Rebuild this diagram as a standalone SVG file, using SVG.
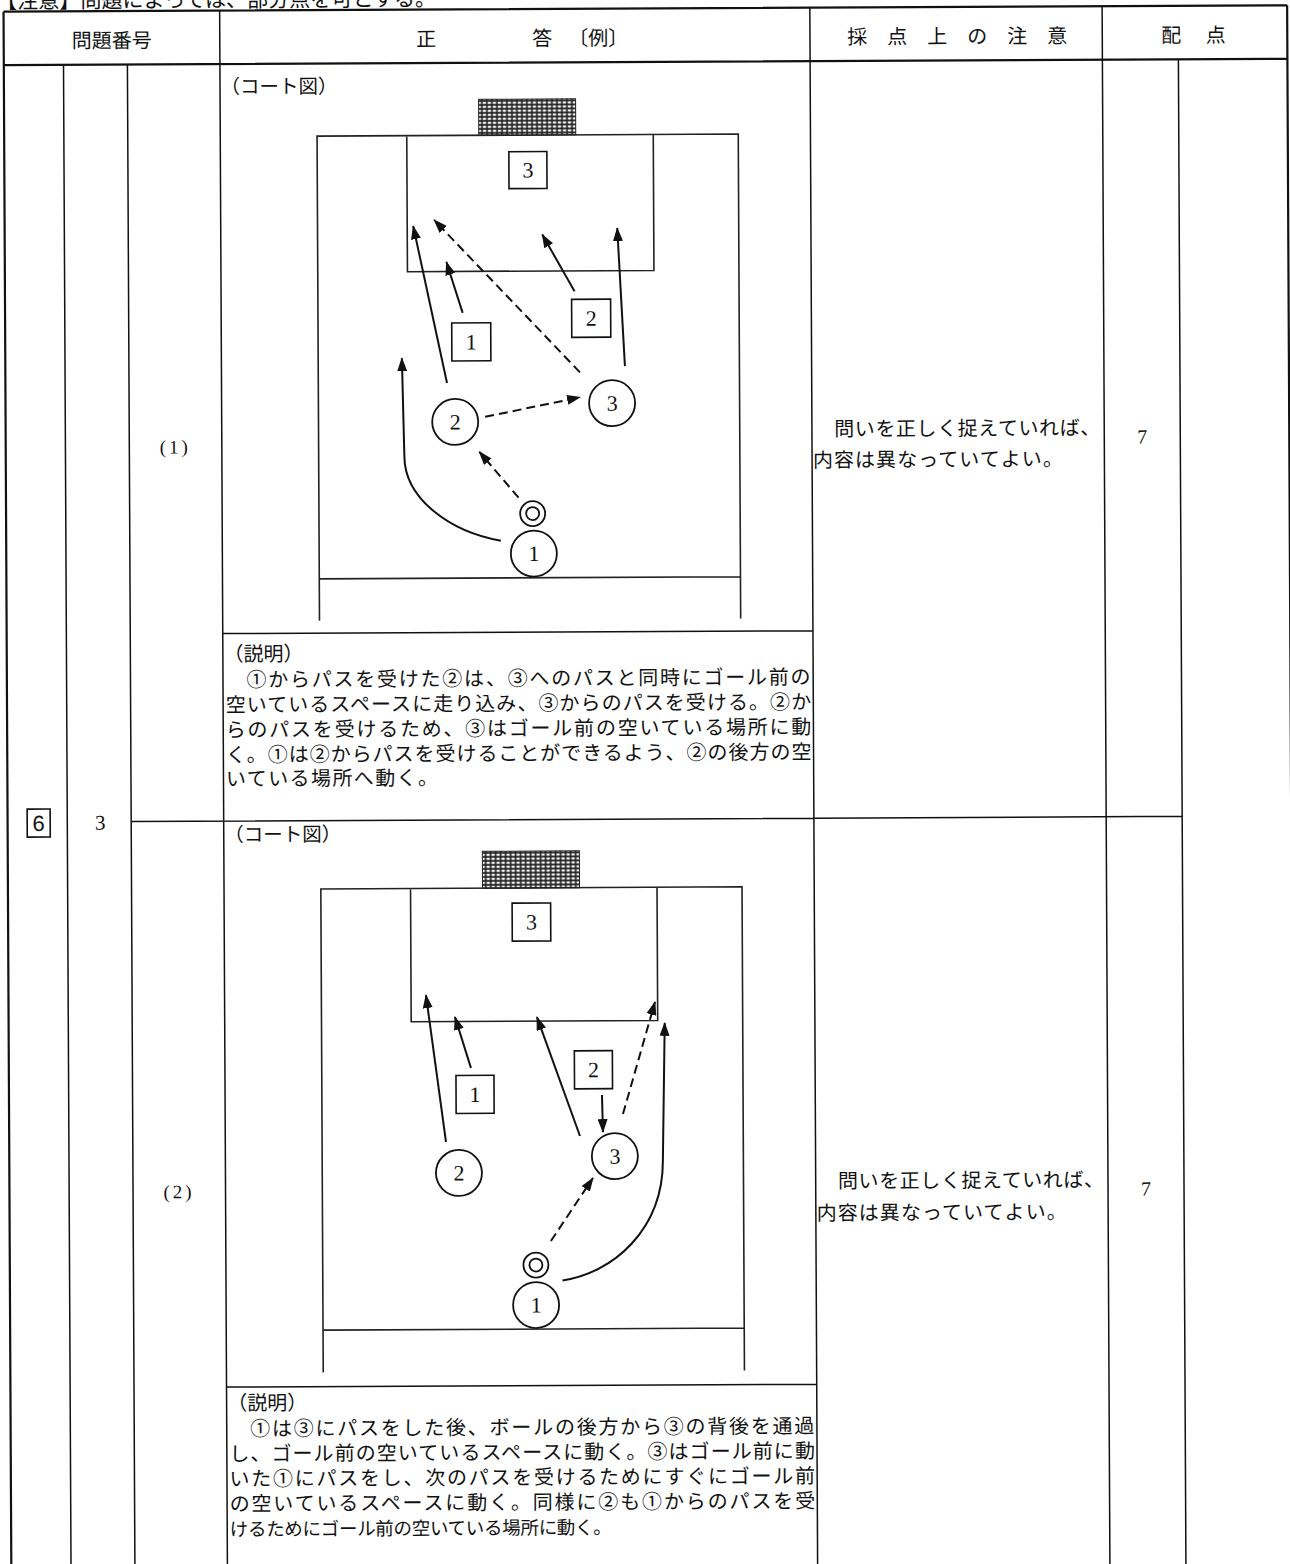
<svg xmlns="http://www.w3.org/2000/svg" width="1290" height="1564" viewBox="0 0 1290 1564">
<defs>
<style>
.t{font-family:'Noto Sans CJK JP','Noto Sans CJK SC',sans-serif;fill:#111}
.s{font-family:'Liberation Serif','DejaVu Serif',serif;fill:#111}
.g{font-family:'Liberation Sans','DejaVu Sans',sans-serif;fill:#111}
.bd{stroke:#111;stroke-width:2.2;fill:none}
.ln{stroke:#111;stroke-width:1.5;fill:none}
.cl{stroke:#222;stroke-width:1.6;fill:none}
.ar{stroke:#111;stroke-width:2;fill:none;marker-end:url(#ah)}
.da{stroke:#111;stroke-width:2;fill:none;stroke-dasharray:9 5;marker-end:url(#ah)}
.c{fill:#fff;stroke:#111;stroke-width:1.8}
.bx{fill:#fff;stroke:#111;stroke-width:1.6}
.n{font-size:22px;text-anchor:middle}
.e{font-size:20px}
</style>
<marker id="ah" viewBox="0 0 14 10" refX="13" refY="5" markerWidth="14" markerHeight="10" markerUnits="userSpaceOnUse" orient="auto"><path d="M0,0 L14,5 L0,10 Z" fill="#111"/></marker>
<pattern id="net" width="5" height="4" patternUnits="userSpaceOnUse"><rect width="5" height="4" fill="#222"/><rect x="1.2" y="1" width="3.2" height="2.2" fill="#fff"/></pattern>
</defs>
<rect width="1290" height="1564" fill="#fff"/>
<g transform="rotate(-0.2865 645 782)">
<text class="t" x="0" y="5" font-size="21" textLength="440" lengthAdjust="spacing">【注意】問題によっては、部分点を可とする。</text>

<g id="table">
<path class="bd" d="M7.4,8.5 H1291 M7.4,62 H1291 M7.4,8.5 V1575 M1291,8.5 V1575"/>
<path class="ln" d="M67.1,62 V1575 M131,62 V1575 M223.5,8.5 V1575 M813.7,8.5 V1575 M1106,8.5 V1575 M1182,62 V1575 M131,819 H1182 M223.5,631.5 H813.7 M223.5,1385 H813.7"/>
</g>

<g id="header">
<text class="t" x="115.5" y="45" font-size="20" text-anchor="middle">問題番号</text>
<text class="t" x="430" y="45" font-size="20" text-anchor="middle">正</text>
<text class="t" x="546" y="45" font-size="20" text-anchor="middle">答</text>
<text class="t" x="602" y="45" font-size="20" text-anchor="middle">〔例〕</text>
<text class="t" x="851" y="45" font-size="20" textLength="220" lengthAdjust="spacing">採点上の注意</text>
<text class="t" x="1175" y="45" font-size="20" text-anchor="middle">配</text>
<text class="t" x="1219.5" y="45" font-size="20" text-anchor="middle">点</text>
</g>

<g id="labels">
<rect class="bx" x="27" y="806" width="23" height="28"/>
<text class="g" x="38.5" y="828" font-size="22" text-anchor="middle">6</text>
<text class="s" x="100" y="827" font-size="21" text-anchor="middle">3</text>
<text class="s" x="177" y="451" font-size="19" text-anchor="middle" letter-spacing="3">(1)</text>
<text class="s" x="177" y="1196" font-size="19" text-anchor="middle" letter-spacing="3">(2)</text>
<text class="s" x="1144" y="446" font-size="20" text-anchor="middle">7</text>
<text class="s" x="1144" y="1198" font-size="20" text-anchor="middle">7</text>
<text class="t" x="836" y="437" font-size="20" textLength="266" lengthAdjust="spacing">問いを正しく捉えていれば、</text>
<text class="t" x="814.5" y="468" font-size="20" textLength="250" lengthAdjust="spacing">内容は異なっていてよい。</text>
<text class="t" x="836" y="1189" font-size="20" textLength="266" lengthAdjust="spacing">問いを正しく捉えていれば、</text>
<text class="t" x="814.5" y="1221" font-size="20" textLength="250" lengthAdjust="spacing">内容は異なっていてよい。</text>
</g>

<g id="explain1">
<text class="t" x="224" y="91.5" font-size="19.5">（コート図）</text>
<text class="t" x="224" y="659" font-size="20">（説明）</text>
<text class="t e" x="247" y="684.8" textLength="564" lengthAdjust="spacing">①からパスを受けた②は、③へのパスと同時にゴール前の</text>
<text class="t e" x="226" y="709.8" textLength="585.5" lengthAdjust="spacing">空いているスペースに走り込み、③からのパスを受ける。②か</text>
<text class="t e" x="226" y="734.8" textLength="585.5" lengthAdjust="spacing">らのパスを受けるため、③はゴール前の空いている場所に動</text>
<text class="t e" x="226" y="759.8" textLength="585.5" lengthAdjust="spacing">く。①は②からパスを受けることができるよう、②の後方の空</text>
<text class="t e" x="226" y="783.8" textLength="212" lengthAdjust="spacing">いている場所へ動く。</text>
</g>

<g id="explain2">
<text class="t" x="224" y="839.5" font-size="19.5">（コート図）</text>
<text class="t" x="224" y="1408" font-size="20">（説明）</text>
<text class="t e" x="247" y="1433.8" textLength="564" lengthAdjust="spacing">①は③にパスをした後、ボールの後方から③の背後を通過</text>
<text class="t e" x="226" y="1458.8" textLength="585.5" lengthAdjust="spacing">し、ゴール前の空いているスペースに動く。③はゴール前に動</text>
<text class="t e" x="226" y="1483.8" textLength="585.5" lengthAdjust="spacing">いた①にパスをし、次のパスを受けるためにすぐにゴール前</text>
<text class="t e" x="226" y="1508.8" textLength="585.5" lengthAdjust="spacing">の空いているスペースに動く。同様に②も①からのパスを受</text>
<text class="t" x="226" y="1533.8" font-size="18.5" textLength="382" lengthAdjust="spacing">けるためにゴール前の空いている場所に動く。</text>
</g>

<g id="court1">
<rect x="482" y="98.5" width="97" height="36" fill="url(#net)" stroke="#222" stroke-width="1"/>
<path class="cl" d="M320.3,619 V134.5 H741.5 V619 M320.3,577.2 H741.5 M410,134.5 V270.5 H656.5 V134.5"/>
</g>
<g id="connectors1">
<path class="ar" d="M449,382 L416,225"/>
<path class="ar" d="M465,312 L449,261"/>
<path class="da" d="M582,372 L437,219"/>
<path class="ar" d="M577,291 L545,234"/>
<path class="ar" d="M627,366 L620,228"/>
<path class="da" d="M487,416 L582,397"/>
<path class="da" d="M520,497 L481,451"/>
<path class="ar" d="M502,540 C452,531 406,498 406,455 L404,357"/>
</g>
<g id="c1-box3"><rect class="bx" x="512" y="151" width="38" height="37"/><text class="s n" x="531" y="177">3</text></g>
<g id="c1-box2"><rect class="bx" x="574" y="299" width="39" height="38"/><text class="s n" x="593.5" y="325.5">2</text></g>
<g id="c1-box1"><rect class="bx" x="454" y="322" width="39" height="38"/><text class="s n" x="473.5" y="348.5">1</text></g>
<g id="c1-p2"><circle class="c" cx="457" cy="421" r="23"/><text class="s n" x="457" y="428.5">2</text></g>
<g id="c1-p3"><circle class="c" cx="614" cy="403" r="23"/><text class="s n" x="614" y="410.5">3</text></g>
<g id="c1-ball"><circle class="c" cx="534" cy="513" r="12.5"/><circle class="c" cx="534" cy="513" r="6.5"/></g>
<g id="c1-p1"><circle class="c" cx="535" cy="553" r="23"/><text class="s n" x="535" y="560.5">1</text></g>

<g id="court2">
<rect x="482" y="850.5" width="97" height="37" fill="url(#net)" stroke="#222" stroke-width="1"/>
<path class="cl" d="M320.3,1371 V887.3 H741.5 V1371 M320.3,1328.5 H741.5 M410,887.3 V1020.6 H656.5 V887.3"/>
</g>
<g id="connectors2">
<path class="ar" d="M444.2,1141 L424.9,994"/>
<path class="ar" d="M469.5,1067 L453.8,1016"/>
<path class="ar" d="M578.2,1135.7 L535.8,1016.5"/>
<path class="ar" d="M600.4,1094.8 L601.2,1131.8"/>
<path class="da" d="M621.3,1113.9 L653.9,1002"/>
<path class="ar" d="M560,1280 C610,1273 661,1230 661,1160 L663.5,1023"/>
<path class="da" d="M548.6,1240.5 L591,1177.7"/>
</g>
<g id="c2-box3"><rect class="bx" x="511.5" y="902.5" width="38.5" height="38"/><text class="s n" x="530.8" y="929">3</text></g>
<g id="c2-box2"><rect class="bx" x="573" y="1050.5" width="38" height="38"/><text class="s n" x="592" y="1077">2</text></g>
<g id="c2-box1"><rect class="bx" x="454.5" y="1074.5" width="38" height="38"/><text class="s n" x="473.5" y="1101">1</text></g>
<g id="c2-p2"><circle class="c" cx="457" cy="1172" r="23"/><text class="s n" x="457" y="1179.5">2</text></g>
<g id="c2-p3"><circle class="c" cx="613" cy="1156" r="23"/><text class="s n" x="613" y="1163.5">3</text></g>
<g id="c2-ball"><circle class="c" cx="533.5" cy="1264.5" r="12.5"/><circle class="c" cx="533.5" cy="1264.5" r="6.5"/></g>
<g id="c2-p1"><circle class="c" cx="533.5" cy="1304.5" r="23"/><text class="s n" x="533.5" y="1312">1</text></g>
</g>
</svg>
